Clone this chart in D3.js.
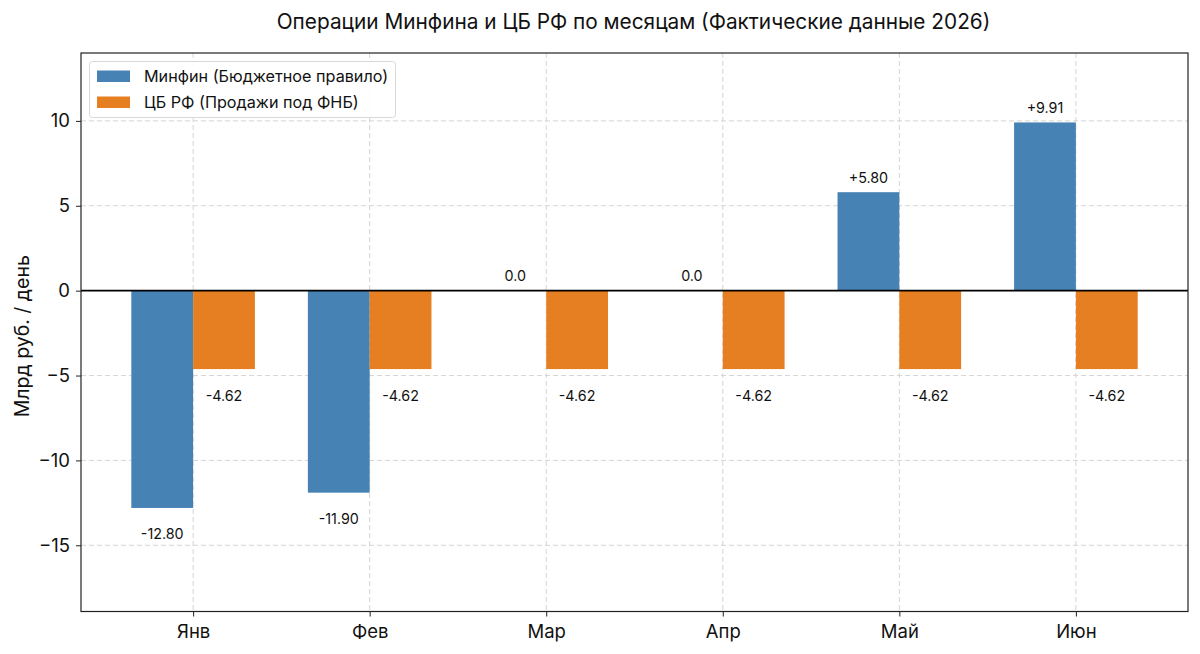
<!DOCTYPE html>
<html><head><meta charset="utf-8">
<script src="https://cdn.jsdelivr.net/npm/d3@7"></script>
<style>body{margin:0;background:#fff}svg{display:block;font-family:Inter,"Noto Sans",sans-serif}</style>
</head><body><svg id="c" width="1200" height="654"></svg>
<script>
const months = ["Янв","Фев","Мар","Апр","Май","Июн"];
const minfin = [-12.80, -11.90, 0.0, 0.0, 5.80, 9.91];
const cbr = [-4.62, -4.62, -4.62, -4.62, -4.62, -4.62];
const seriesNames = ["Минфин (Бюджетное правило)", "ЦБ РФ (Продажи под ФНБ)"];
const colors = ["#4682B4", "#E67E22"];
const yTicks = [-15, -10, -5, 0, 5, 10];
const title = "Операции Минфина и ЦБ РФ по месяцам (Фактические данные 2026)";
const yLabel = "Млрд руб. / день";

const svg = d3.select("#c");
const L = 81, R = 1188, T = 53, B = 611.5;
const bw = 0.35;
const x = d3.scaleLinear().domain([-0.635, 5.635]).range([L, R]);
const y = d3.scaleLinear().domain([-18.9, 14.0]).range([B, T]);

// grid
const g = svg.append("g");
g.selectAll("line.gy").data(yTicks).join("line")
  .attr("x1", L).attr("x2", R).attr("y1", d => y(d)).attr("y2", d => y(d))
  .attr("stroke", "#d0d0d0").attr("stroke-dasharray", "5,3").attr("stroke-width", 0.9);
g.selectAll("line.gx").data(months).join("line")
  .attr("x1", (d,i) => x(i)).attr("x2", (d,i) => x(i)).attr("y1", T).attr("y2", B)
  .attr("stroke", "#d0d0d0").attr("stroke-dasharray", "5,3").attr("stroke-width", 0.9);

// bars
const series = [minfin, cbr];
series.forEach((vals, s) => {
  const off = s === 0 ? -bw/2 : bw/2;
  svg.append("g").selectAll("rect").data(vals).join("rect")
    .attr("x", (d,i) => x(i + off - bw/2))
    .attr("width", x(bw) - x(0))
    .attr("y", d => y(Math.max(0, d)))
    .attr("height", d => Math.abs(y(d) - y(0)))
    .attr("fill", colors[s]);
  svg.append("g").selectAll("text").data(vals).join("text")
    .attr("x", (d,i) => x(i + off))
    .attr("y", d => d > 0 ? y(d) - 9 : d === 0 ? y(0) - 10 : y(d) + 31.5)
    .attr("text-anchor", "middle").attr("font-size", 14.3).attr("fill", "#111")
    .text(d => d > 0 ? "+" + d.toFixed(2) : d === 0 ? "0.0" : "-" + Math.abs(d).toFixed(2));
});

// zero line
svg.append("line").attr("x1", L).attr("x2", R).attr("y1", y(0)).attr("y2", y(0))
  .attr("stroke", "#000").attr("stroke-width", 1.6);

// axes
const yAxis = d3.axisLeft(y).tickValues(yTicks).tickSize(5).tickPadding(6)
  .tickFormat(d => d < 0 ? "\u2212" + Math.abs(d) : String(d));
const ya = svg.append("g").attr("transform", `translate(${L},0)`).call(yAxis);
ya.select(".domain").remove();
ya.selectAll("text").attr("font-size", 18.5).attr("fill", "#111").attr("font-family", "Inter, sans-serif");
ya.selectAll("line").attr("stroke", "#222");

const xAxis = d3.axisBottom(x).tickValues(d3.range(months.length)).tickSize(5).tickPadding(8)
  .tickFormat(i => months[i]);
const xa = svg.append("g").attr("transform", `translate(0,${B})`).call(xAxis);
xa.select(".domain").remove();
xa.selectAll("text").attr("font-size", 18.5).attr("fill", "#111").attr("font-family", "Inter, sans-serif");
xa.selectAll("line").attr("stroke", "#222");

// frame
svg.append("rect").attr("x", L).attr("y", T).attr("width", R - L).attr("height", B - T)
  .attr("fill", "none").attr("stroke", "#222").attr("stroke-width", 1.2);

// title
svg.append("text").attr("x", (L + R) / 2 - 1).attr("y", 29).attr("text-anchor", "middle")
  .attr("font-size", 20.8).attr("fill", "#111").text(title);

// y label
svg.append("text").attr("transform", `translate(29,${(T + B) / 2 + 4}) rotate(-90)`)
  .attr("text-anchor", "middle").attr("font-size", 19.5).attr("fill", "#111").text(yLabel);

// legend
const lg = svg.append("g");
lg.append("rect").attr("x", 89.5).attr("y", 61.5).attr("width", 306).attr("height", 56)
  .attr("rx", 3).attr("fill", "#fff").attr("fill-opacity", 0.85).attr("stroke", "#d8d8d8");
seriesNames.forEach((n, i) => {
  lg.append("rect").attr("x", 97).attr("y", 70.5 + i * 26).attr("width", 33).attr("height", 11.5)
    .attr("fill", colors[i]);
  lg.append("text").attr("x", 144).attr("y", 82 + i * 26).attr("font-size", 16.2)
    .attr("fill", "#111").text(n);
});
</script></body></html>
